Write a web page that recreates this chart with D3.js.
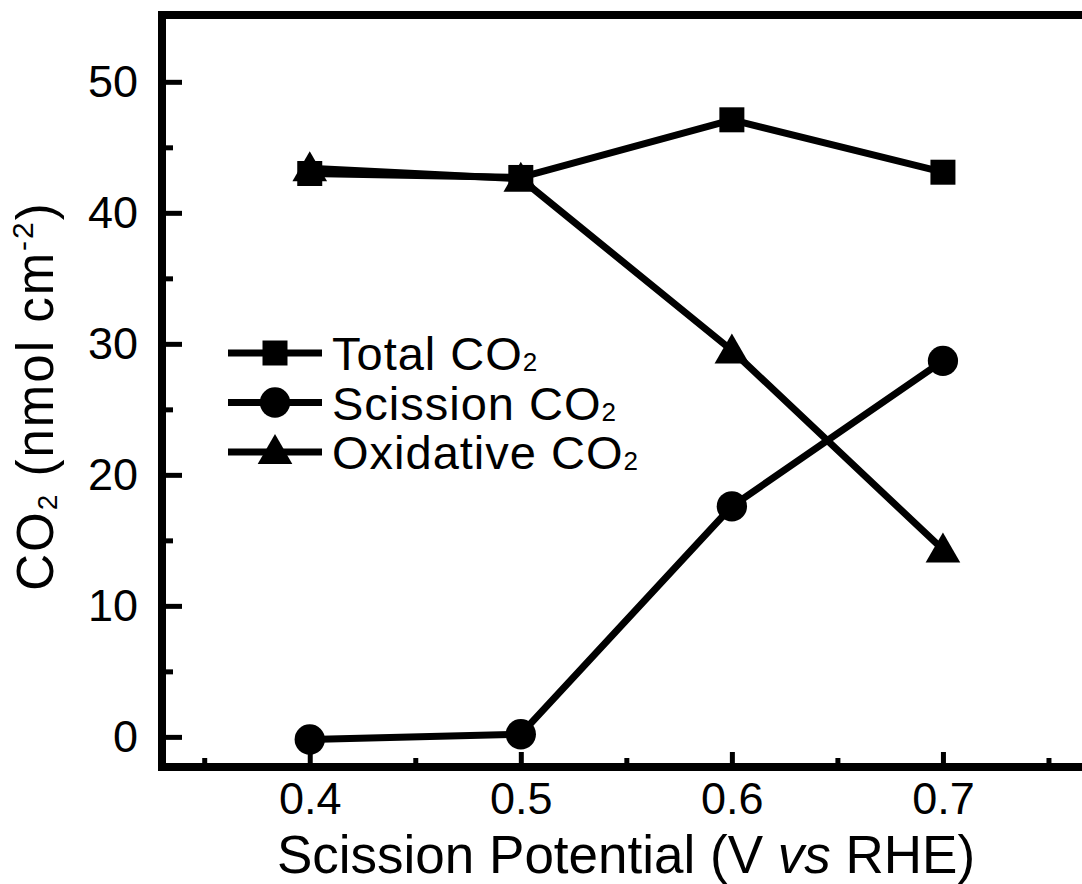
<!DOCTYPE html>
<html>
<head>
<meta charset="utf-8">
<script src="https://cdn.jsdelivr.net/npm/d3@7"></script>
<style>
  body { margin: 0; background: #fff; }
  svg { display: block; }
  text { font-family: "Liberation Sans", Arial, sans-serif; fill: #000; }
</style>
</head>
<body>
<script>
// data
let potentials = [0.4, 0.5, 0.6, 0.7];
let totalCO2 = [43.0, 42.7, 47.1, 43.1];
let scissionCO2 = [-0.2, 0.2, 17.6, 28.7];
let oxidativeCO2 = [43.4, 42.6, 29.5, 14.3];
let xMajor = [0.4, 0.5, 0.6, 0.7];
let xMinor = [0.35, 0.45, 0.55, 0.65, 0.75];
let yMajor = [0, 10, 20, 30, 40, 50];
let yMinor = [5, 15, 25, 35, 45];

let width = 1082, height = 884;

let svg = d3.select("body").append("svg")
    .attr("width", width)
    .attr("height", height);

let x = d3.scaleLinear().domain([0.33, 0.8]).range([162, 1154]);
let y = d3.scaleLinear().domain([-2.3, 55.1]).range([767, 15]);

let series = [
    {name: "Total", values: totalCO2, shape: "square"},
    {name: "Scission", values: scissionCO2, shape: "circle"},
    {name: "Oxidative", values: oxidativeCO2, shape: "triangle"}
];

let symbolFor = {
    square: d3.symbol().type(d3.symbolSquare).size(625),
    circle: d3.symbol().type(d3.symbolCircle).size(720),
    triangle: d3.symbol().type(d3.symbolTriangle).size(520)
};

// lines
let line = d3.line().x((d, i) => x(potentials[i])).y(d => y(d));
svg.append("g").attr("class", "lines")
    .selectAll("path")
    .data(series)
    .enter().append("path")
    .attr("d", d => line(d.values))
    .attr("fill", "none")
    .attr("stroke", "#000")
    .attr("stroke-width", 7)
    .attr("stroke-linejoin", "round");

// markers
series.forEach(s => {
    svg.append("g").selectAll("path")
        .data(s.values)
        .enter().append("path")
        .attr("d", symbolFor[s.shape])
        .attr("transform", (d, i) => {
            let dy = s.shape === "triangle" ? 3 : 0;
            return `translate(${x(potentials[i])},${y(d) + dy})`;
        })
        .attr("fill", "#000");
});

// axes (ticks point inward)
let yAxis = svg.append("g")
    .attr("transform", `translate(${x.range()[0]},0)`)
    .call(d3.axisLeft(y).tickValues(yMajor).tickSize(-20).tickPadding(24).tickFormat(d3.format("d")));
let yAxisMinor = svg.append("g")
    .attr("transform", `translate(${x.range()[0]},0)`)
    .call(d3.axisLeft(y).tickValues(yMinor).tickSize(-11).tickFormat(""));
let xAxis = svg.append("g")
    .attr("transform", `translate(0,${y.range()[0]})`)
    .call(d3.axisBottom(x).tickValues(xMajor).tickSize(-15).tickPadding(15).tickFormat(d3.format(".1f")));
let xAxisMinor = svg.append("g")
    .attr("transform", `translate(0,${y.range()[0]})`)
    .call(d3.axisBottom(x).tickValues(xMinor).tickSize(-9).tickFormat(""));

[yAxis, yAxisMinor, xAxis, xAxisMinor].forEach(a => {
    a.select(".domain").remove();
    a.selectAll(".tick line").attr("stroke", "#000").attr("stroke-width", 5);
    a.selectAll(".tick text")
        .style("font-family", "'Liberation Sans', Arial, sans-serif")
        .style("font-size", "45px")
        .attr("fill", "#000");
});

// frame
svg.append("rect")
    .attr("x", x.range()[0])
    .attr("y", y.range()[1])
    .attr("width", x.range()[1] - x.range()[0])
    .attr("height", y.range()[0] - y.range()[1])
    .attr("fill", "none")
    .attr("stroke", "#000")
    .attr("stroke-width", 8);

// axis titles
let xTitle = svg.append("text")
    .attr("x", (277 + 975) / 2)
    .attr("y", 873)
    .attr("text-anchor", "middle")
    .style("font-size", "53px");
xTitle.append("tspan").text("Scission Potential (V ");
xTitle.append("tspan").style("font-style", "italic").text("vs");
xTitle.append("tspan").text(" RHE)");

let yTitle = svg.append("text")
    .attr("transform", "translate(53,396) rotate(-90)")
    .attr("text-anchor", "middle")
    .style("font-size", "51px")
    .style("letter-spacing", "2px");
yTitle.append("tspan").text("CO");
yTitle.append("tspan").style("font-size", "28px").attr("dy", 4).text("2");
yTitle.append("tspan").attr("dy", -4).text(" (nmol cm");
yTitle.append("tspan").style("font-size", "30px").attr("dy", -20).text("-2");
yTitle.append("tspan").attr("dy", 20).text(")");

// legend
let legendNames = ["Total CO", "Scission CO", "Oxidative CO"];
let legend = svg.append("g").attr("class", "legend");
series.forEach((s, i) => {
    let ly = 353 + i * 49.5;
    let row = legend.append("g").attr("transform", `translate(0,${ly})`);
    row.append("line")
        .attr("x1", 228).attr("x2", 322)
        .attr("y1", 0).attr("y2", 0)
        .attr("stroke", "#000").attr("stroke-width", 7);
    row.append("path")
        .attr("d", symbolFor[s.shape])
        .attr("transform", `translate(275,${s.shape === "triangle" ? 2 : 0})`)
        .attr("fill", "#000");
    let t = row.append("text")
        .attr("x", 332)
        .attr("y", 17)
        .style("font-size", "47px")
        .style("letter-spacing", "1px");
    t.append("tspan").text(legendNames[i]);
    t.append("tspan").style("font-size", "26px").attr("dy", 1).text("2");
});
</script>
</body>
</html>
